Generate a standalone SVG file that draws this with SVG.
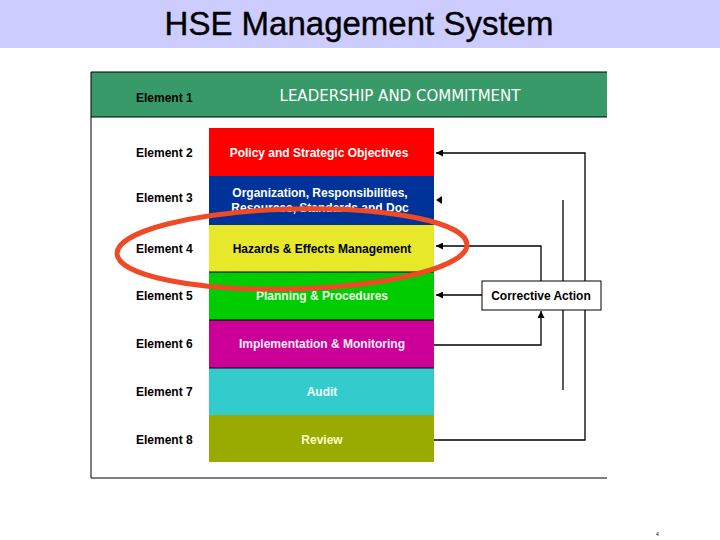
<svg xmlns="http://www.w3.org/2000/svg" width="720" height="540" viewBox="0 0 720 540">
<defs>
<style>
.lbl{font-family:"Liberation Sans",Arial,sans-serif;font-size:12px;font-weight:bold;fill:#000}
.bt{font-family:"Liberation Sans",Arial,sans-serif;font-size:12px;font-weight:bold;text-anchor:middle}
.ln{stroke:#000;stroke-width:1.3;fill:none}
.sep{stroke:#000;stroke-width:1;fill:none}
</style>
<marker id="ah" viewBox="0 0 10 10" refX="10" refY="5" markerWidth="7" markerHeight="7" markerUnits="userSpaceOnUse" orient="auto">
<path d="M0,0 L10,5 L0,10 Z" fill="#000"/>
</marker>
</defs>
<rect x="0" y="0" width="720" height="540" fill="#fff"/>
<g id="title">
<rect x="0" y="0" width="720" height="48" fill="#CCCCFF"/>
<text x="359" y="35" font-family="'Liberation Sans',Arial,sans-serif" font-size="33" text-anchor="middle" fill="#000" stroke="#000" stroke-width="0.4">HSE Management System</text>
</g>
<g id="frame">
<rect x="91" y="72" width="516" height="45" fill="#379A68"/>
<path d="M91,72 H607 M91,117 H607 M91,72 V478 H607" class="sep"/>
</g>
<g id="element1">
<text x="136" y="102" class="lbl">Element 1</text>
<text x="400" y="101" font-family="'Comic Sans MS','DejaVu Sans',sans-serif" font-size="15" text-anchor="middle" fill="#fff">LEADERSHIP AND COMMITMENT</text>
</g>
<g id="element2">
<text x="136" y="157" class="lbl">Element 2</text>
<rect x="209" y="128" width="225" height="48" fill="#FF0000"/>
<text x="319" y="157" class="bt" fill="#fff">Policy and Strategic Objectives</text>
</g>
<g id="element3">
<text x="136" y="202" class="lbl">Element 3</text>
<rect x="209" y="176" width="225" height="49" fill="#003399"/>
<text x="320" y="197" class="bt" fill="#fff">Organization, Responsibilities,</text>
<text x="320" y="212" class="bt" fill="#fff">Resources, Standards and Doc</text>
</g>
<g id="element4">
<text x="136" y="253" class="lbl">Element 4</text>
<rect x="209" y="225" width="225" height="47" fill="#E8E82A"/>
<text x="322" y="253" class="bt" fill="#000">Hazards &amp; Effects Management</text>
</g>
<g id="element5">
<text x="136" y="300" class="lbl">Element 5</text>
<rect x="209" y="272" width="225" height="48" fill="#00CC00"/>
<text x="322" y="300" class="bt" fill="#EEFFE8">Planning &amp; Procedures</text>
</g>
<g id="element6">
<text x="136" y="348" class="lbl">Element 6</text>
<rect x="209" y="320" width="225" height="48" fill="#CC0099"/>
<text x="322" y="348" class="bt" fill="#FFEEFF">Implementation &amp; Monitoring</text>
</g>
<g id="element7">
<text x="136" y="396" class="lbl">Element 7</text>
<rect x="209" y="368" width="225" height="47" fill="#33CCCC"/>
<text x="322" y="396" class="bt" fill="#F4FFFF">Audit</text>
</g>
<g id="element8">
<text x="136" y="444" class="lbl">Element 8</text>
<rect x="209" y="415" width="225" height="47" fill="#99AA00"/>
<text x="322" y="444" class="bt" fill="#FFFFCC">Review</text>
</g>
<g id="separators">
<path d="M209,272 H434 M209,320 H434 M209,368 H434" class="sep"/>
</g>
<g id="connectors">
<path d="M434,440 H585 V153 H436" class="ln" marker-end="url(#ah)"/>
<path d="M563,200 V390" class="ln"/>
<path d="M442,196 L436,200 L442,204 Z" fill="#000"/>
<path d="M541,281 V246 H436" class="ln" marker-end="url(#ah)"/>
<path d="M482,295 H436" class="ln" marker-end="url(#ah)"/>
<path d="M434,345 H541 V311" class="ln" marker-end="url(#ah)"/>
</g>
<g id="corrective">
<rect x="482" y="281" width="119" height="29" fill="#fff" stroke="#000" stroke-width="1"/>
<text x="541" y="300" class="bt" fill="#000">Corrective Action</text>
</g>
<g id="highlight">
<ellipse cx="292" cy="249" rx="175" ry="40" transform="rotate(-1.5 292 249)" fill="none" stroke="#EE4A26" stroke-width="5"/>
</g>
<text x="656" y="536" font-family="'Liberation Sans',Arial,sans-serif" font-size="5" fill="#000">4</text>
</svg>
